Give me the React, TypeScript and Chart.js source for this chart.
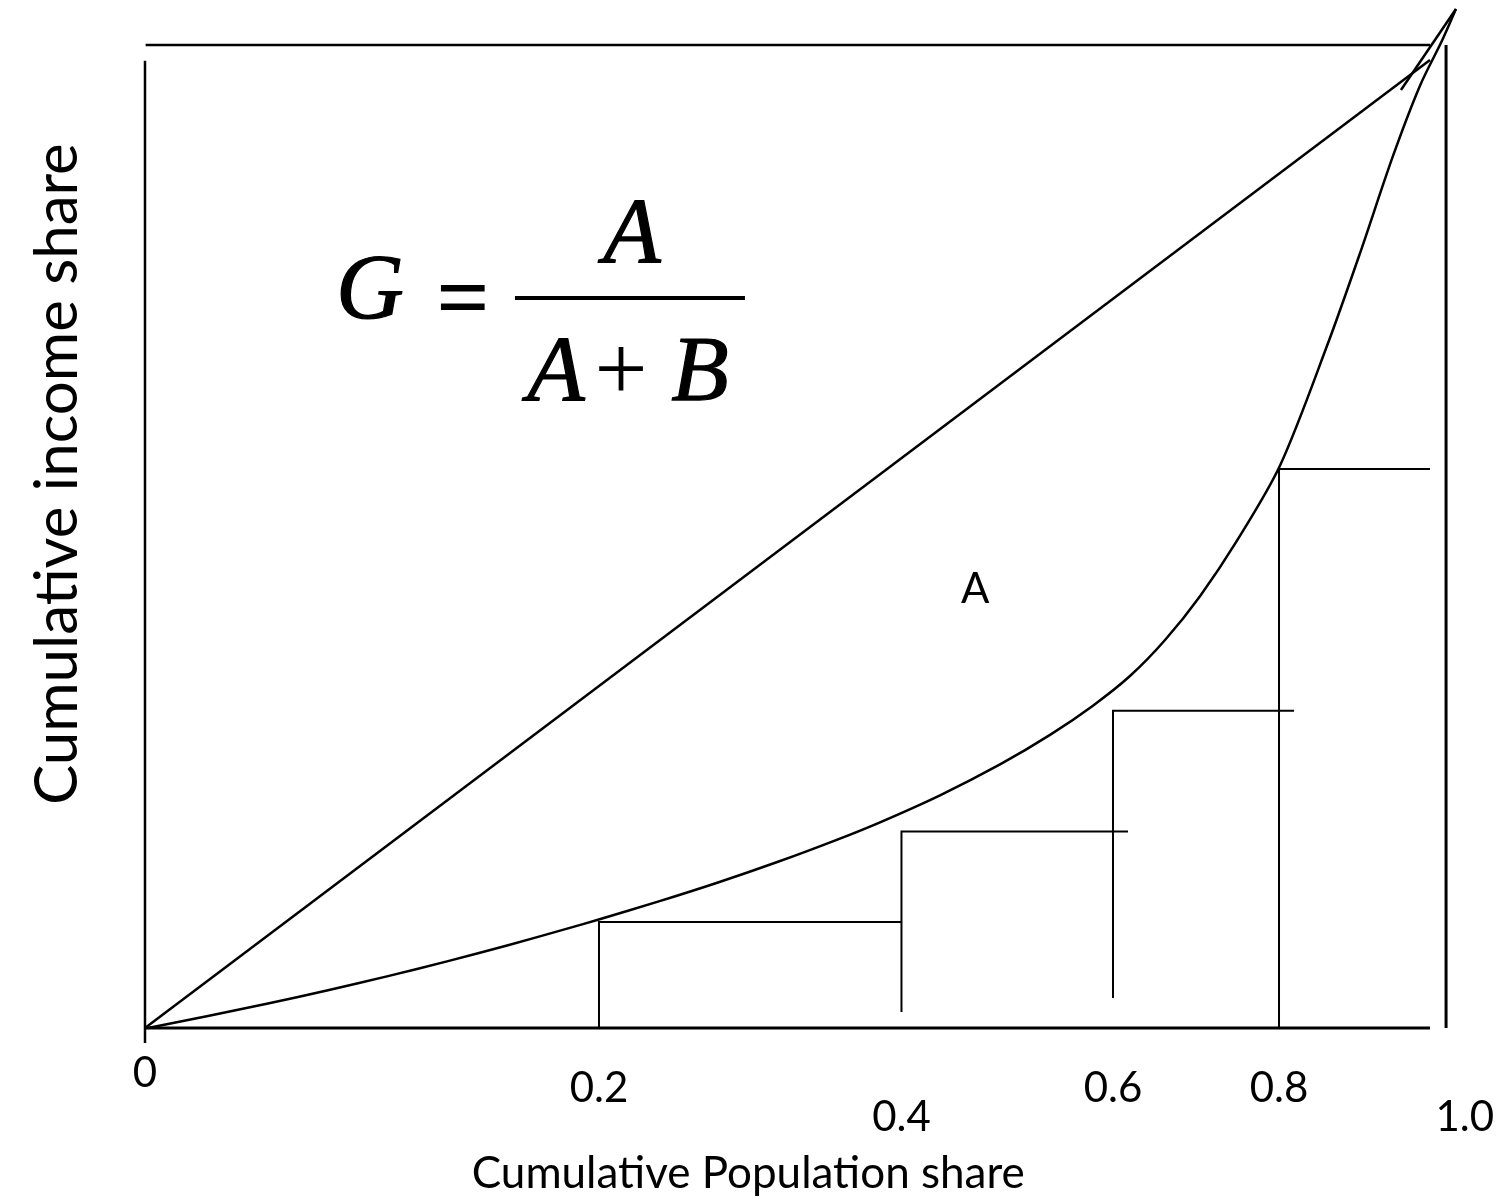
import React, { useEffect, useRef } from "react";
import { Chart, registerables } from "chart.js";

Chart.register(...registerables);

// Normalised coordinates: population share (x) and income share (y) of the drawing
const equalityX = [0, 1];
const equalityY = [0, 1];

const lorenzX = [0.0023, 0.049, 0.0957, 0.1424, 0.1891, 0.2358, 0.2825, 0.3292, 0.3525, 0.3992, 0.4459, 0.4926, 0.5393, 0.572, 0.6187, 0.6654, 0.7043, 0.7377, 0.7665, 0.7938, 0.821, 0.8498, 0.8833, 0.9198, 0.9455, 0.9712, 0.9922, 1.0093, 1.0202];
const lorenzY = [0, 0.0124, 0.0254, 0.039, 0.0536, 0.0691, 0.0855, 0.1029, 0.1119, 0.1305, 0.1503, 0.1717, 0.1949, 0.2125, 0.2404, 0.2723, 0.3028, 0.333, 0.3636, 0.4008, 0.4461, 0.5034, 0.5811, 0.7045, 0.8003, 0.9009, 0.9735, 1.0199, 1.0527];

const tipStrokeX = [0.9774, 1.0202];
const tipStrokeY = [0.969, 1.0527];

// Steps: x of riser, bottom of riser, top (income level), end of tread
const stepX = [0.3533, 0.5887, 0.7533, 0.8825];
const stepBottom = [0, 0.0165, 0.031, 0];
const stepTop = [0.1095, 0.203, 0.3278, 0.5775];
const stepEnd = [0.5883, 0.765, 0.8942, 1.0];

// Frame
const frameLeftX = 0;
const frameLeftY = [-0.0155, 0.9993];
const frameTopY = 1.0155;
const frameTopX = [0.0005, 1.0];
const frameRightX = 1.0125;
const frameRightY = [0, 1.0155];
const baseX = [0, 1];

const tickLabels = ["0", "0.2", "0.4", "0.6", "0.8", "1.0"];
const tickValues = [0, 0.3533, 0.5887, 0.7533, 0.8825, 1.027];
const tickRowY = [-0.0611, -0.0766, -0.1066, -0.0766, -0.0766, -0.1066];

const xTitle = "Cumulative Population share";
const yTitle = "Cumulative income share";
const areaLabel = "A";

const pts = (xs: number[], ys: number[]) => xs.map((x, i) => ({ x, y: ys[i] }));

function line(data: { x: number; y: number }[], width = 2.5, tension = 0) {
  return {
    data,
    showLine: true,
    borderColor: "#000",
    backgroundColor: "#000",
    borderWidth: width,
    pointRadius: 0,
    tension,
    fill: false,
    clip: false as any,
  };
}

const textPlugin = {
  id: "gtext",
  afterDraw(chart: any) {
    const ctx = chart.ctx;
    const xs = chart.scales.x;
    const ys = chart.scales.y;
    const px = (v: number) => xs.getPixelForValue(v);
    const py = (v: number) => ys.getPixelForValue(v);
    ctx.save();
    ctx.fillStyle = "#000";
    ctx.strokeStyle = "#000";
    ctx.textBaseline = "alphabetic";

    // tick labels
    ctx.font = "42px Lato";
    ctx.textAlign = "center";
    tickLabels.forEach((t, i) => ctx.fillText(t, px(tickValues[i]), py(tickRowY[i])));

    // x title
    ctx.font = "44px Lato";
    ctx.fillText(xTitle, px(0.4695), py(-0.1653));

    // area label
    ctx.font = "42px Lato";
    ctx.fillText(areaLabel, px(0.646), py(0.4391));

    // y title
    ctx.save();
    ctx.font = "60px Lato";
    ctx.translate(px(-0.053), py(0.5723));
    ctx.rotate(-Math.PI / 2);
    ctx.fillText(yTitle, 0, 0);
    ctx.restore();

    // formula G = A / (A + B)
    const serifIt = "italic 94px 'Liberation Serif'";
    const serif = "94px 'Liberation Serif'";
    const glyph = (t: string, font: string, x: number, y: number, heavy = true) => {
      ctx.font = font;
      ctx.fillText(t, x, y);
      if (heavy) {
        ctx.lineWidth = 1.2;
        ctx.strokeText(t, x, y);
      }
    };
    ctx.textAlign = "center";
    glyph("G", serifIt, px(0.1751), py(0.7335));
    glyph("=", "bold 94px 'Liberation Serif'", px(0.2475), py(0.7231), false);
    // fraction bar
    ctx.lineWidth = 4;
    ctx.beginPath();
    ctx.moveTo(px(0.2879), py(0.7541));
    ctx.lineTo(px(0.4669), py(0.7541));
    ctx.stroke();
    glyph("A", serifIt, px(0.379), py(0.7913));
    // denominator
    const by = py(0.6488);
    glyph("A", serifIt, px(0.3198), by);
    glyph("+", serif, px(0.3704), by, false);
    glyph("B", serifIt, px(0.4319), by);
    ctx.restore();
  },
};

export default function App() {
  const ref = useRef<HTMLCanvasElement>(null);
  useEffect(() => {
    document.body.style.margin = "0";
    const datasets: any[] = [
      line(pts(equalityX, equalityY), 2.5),
      line(pts(lorenzX, lorenzY), 2.5, 0.3),
      line(pts(tipStrokeX, tipStrokeY), 2.5),
      line(pts([frameLeftX, frameLeftX], frameLeftY), 2.5),
      line(pts(frameTopX, [frameTopY, frameTopY]), 2.5),
      line(pts([frameRightX, frameRightX], frameRightY), 3),
      line(pts(baseX, [0, 0]), 3),
    ];
    stepX.forEach((sx, i) => {
      datasets.push(
        line(
          [
            { x: sx, y: stepBottom[i] },
            { x: sx, y: stepTop[i] },
            { x: stepEnd[i], y: stepTop[i] },
          ],
          2
        )
      );
    });
    const chart = new Chart(ref.current!, {
      type: "scatter",
      data: { datasets },
      options: {
        animation: false,
        responsive: true,
        maintainAspectRatio: false,
        layout: { padding: 0 },
        plugins: { legend: { display: false }, tooltip: { enabled: false } },
        events: [],
        scales: {
          x: { type: "linear", display: false, min: -0.11284, max: 1.05603 },
          y: { type: "linear", display: false, min: -0.17665, max: 1.06198 },
        },
      },
      plugins: [textPlugin],
    });
    return () => chart.destroy();
  }, []);
  return (
    <div style={{ width: 1502, height: 1199, position: "relative", background: "#fff" }}>
      <canvas ref={ref} />
    </div>
  );
}
